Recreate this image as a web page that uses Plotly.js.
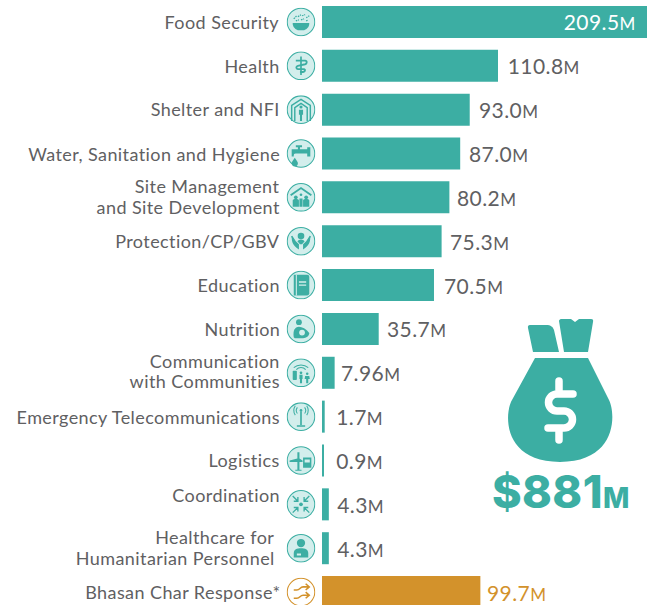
<!DOCTYPE html>
<html><head><meta charset="utf-8">
<script src="https://cdn.plot.ly/plotly-3.0.1.min.js"></script>
<style>html,body{margin:0;padding:0;background:#fff}#c{width:647px;height:605px}
.annotation text{letter-spacing:.42px}</style></head>
<body><div id="c"></div>
<script>
const categories=["Food Security","Health","Shelter and NFI","Water, Sanitation and Hygiene","Site Management<br>and Site Development","Protection/CP/GBV","Education","Nutrition","Communication<br>with Communities","Emergency Telecommunications","Logistics","Coordination","Healthcare for<br>Humanitarian Personnel","Bhasan Char Response*"];
const values=[209.5,110.8,93.0,87.0,80.2,75.3,70.5,35.7,7.96,1.7,0.9,4.3,4.3,99.7];
const valueText=["209.5","110.8","93.0","87.0","80.2","75.3","70.5","35.7","7.96","1.7","0.9","4.3","4.3","99.7"];
const totalText="$881";
const TEAL="#3CAEA3",ORANGE="#D3922B",GREY="#5F6062";
const barColors=categories.map((c,i)=>i===13?ORANGE:TEAL);
const valShift=[0,9,8,8,7,7,9,7,5,10,12,7,7,6];
const labelDy=[0,0,-1,0,-1,0,0,0,-2,0,0,-9,-1,0];
const labelDx=[0,0,0,0,0,0,0,0,0,0,0,0,-5,0];
const lineGap=[0,0,0,0,20.5,0,0,0,20.5,0,0,0,21,0];

function svg(inner,w,h){return "data:image/svg+xml;charset=utf-8,"+encodeURIComponent(`<svg xmlns="http://www.w3.org/2000/svg" viewBox="0 0 ${w} ${h}" width="${w*4}" height="${h*4}">${inner}</svg>`);}
const glyphs=[
 `<path d="M6 15h16a8 7 0 0 1-5 7h-6a8 7 0 0 1-5-7z" fill="C"/><path d="M7 11l3-3M11 9l3-2M15 8l3-1M19 10l3-2M9 13l3-1M14 12l3-1M19 13l2-1" stroke="C" stroke-width="1.2" fill="none" stroke-dasharray="1.5 .8"/>`,
 `<path d="M14 5v18" stroke="C" stroke-width="1.6"/><path d="M9 9h9c2 0 2 3 0 3.5l-7 1.500c-2 .6-2 3 0 3.200h6c1.500.5 1 2.500-1 2.800h-3" stroke="C" stroke-width="1.800" fill="none"/>`,
 `<path d="M5 25V10l9-6 9 6v15M8 25V12l6-4 6 4v13" stroke="C" stroke-width="1.400" fill="none"/><circle cx="14" cy="11.500" r="1.500" fill="C"/><path d="M12 14h4v5h-1v6h-2v-6h-1z" fill="C"/>`,
 `<path d="M5 10h6V8h-2V6h6v2h-2v2h7V8h3v9h-3v-3H9c-2 0-2 1-2 3H5z" fill="C"/><path d="M8 18c2 3 3 4 3 5.500a3 3 0 0 1-6 0c0-1.500 1-2.500 3-5.500z" fill="C"/>`,
 `<path d="M4 12L14 5l10 7" stroke="C" stroke-width="1.800" fill="none"/><circle cx="9" cy="14" r="1.800" fill="C"/><circle cx="14" cy="11.500" r="1.300" fill="C"/><circle cx="19" cy="14" r="1.800" fill="C"/><path d="M6 23v-6c0-1 1-1.500 3-1.500s3 .5 3 1.500v6zM16 23v-6c0-1 1-1.500 3-1.500s3 .5 3 1.500v6zM12.500 23v-8h3v8z" fill="C"/>`,
 `<path d="M5 9c0 6 1 9 7 13v-5L8 13zM23 9c0 6-1 9-7 13v-5l4-4z" fill="C"/><path d="M5 9l3 5M23 9l-3 5" stroke="C" stroke-width="1.500"/><circle cx="14" cy="9" r="3.200" fill="C"/><path d="M10.500 14a4 3 0 0 1 7 0l-2.500 3h-2z" fill="C"/>`,
 `<path d="M7 4h13a2 2 0 0 1 2 2v16a2 2 0 0 1-2 2H7z" fill="C"/><path d="M9.500 4v20" stroke="#D3EEEC" stroke-width="1"/><path d="M12 11h7M12 14h7" stroke="#D3EEEC" stroke-width="1.300"/>`,
 `<circle cx="12" cy="7.500" r="2.800" fill="C"/><path d="M7 22c-1-6 1-10 5-10 3 0 7 2 10 6 0 3-3 5-6 5h-8z" fill="C"/><circle cx="15" cy="17.500" r="2.800" fill="#D3EEEC"/>`,
 `<path d="M7 9a10 9 0 0 1 14 0M9.500 11a6 6 0 0 1 9 0" stroke="C" stroke-width="1" fill="none"/><rect x="6" y="12" width="4" height="9" rx=".8" fill="C"/><circle cx="14" cy="14" r="1.300" fill="C"/><path d="M12.500 16h3v4h-.5v4h-2v-4h-.5z" fill="C"/><circle cx="20" cy="15" r="1.200" fill="C"/><path d="M18 17h4l.5 3h-1.500v4h-2v-4h-1.500z" fill="C"/>`,
 `<path d="M14 9v13M10 23h8" stroke="C" stroke-width="1.600"/><circle cx="14" cy="8" r="1.300" fill="C"/><path d="M10.500 5a5 5 0 0 0 0 6M17.500 5a5 5 0 0 1 0 6M8.500 3.500a8 8 0 0 0 0 9M19.500 3.500a8 8 0 0 1 0 9" stroke="C" stroke-width="1" fill="none"/>`,
 `<path d="M10.500 6h2v6l3 2v1.500h-3V23h2v1h-6v-1h2v-7.500H3v-1.500l7.500-2z" fill="C"/><path d="M16 11h8v10h-8z" fill="C"/><path d="M17.500 13h5v3h-5z" fill="#D3EEEC"/>`,
 `<circle cx="14" cy="14" r="1.800" fill="C"/><path d="M6 6l5 5M11 7v4H7M22 6l-5 5M17 7v4h4M6 22l5-5M11 21v-4H7M22 22l-5-5M17 21v-4h4" stroke="C" stroke-width="1.300" fill="none"/>`,
 `<circle cx="14" cy="9" r="4" fill="C"/><path d="M7 23v-4c0-4 3-5 7-5s7 1 7 5v4z" fill="C"/><path d="M10 19h4v2h-4z" fill="#D3EEEC"/>`,
 `<path d="M7 12h3c3 0 3-3 6-3h5M7 20h3c3 0 3-3 6-3h5M18.500 6l3.500 3-3.500 3M18.500 14l3.500 3-3.500 3" stroke="C" stroke-width="1.500" fill="none"/>`
];
function icon(i){const C=i===13?ORANGE:TEAL,bg=i===13?"#FFFFFF":"#D3EEEC";
 return svg(`<circle cx="14" cy="14" r="13.300" fill="${bg}" stroke="${C}" stroke-width="1"/>`+glyphs[i].replace(/="C"/g,`="${C}"`),28,28);}
const bag=svg(`<g fill="${TEAL}"><path d="M21 9c-.5-2 .5-3 2-3h16c5 0 7 2 8 5l5 22H26z"/><path d="M52 2c0-1 1-2 2-2h10l4 3 4-3h12c2 0 2.500 1 2 3l-5 30H57z"/><path d="M28 39h53l21 42c7 14 8 62-49 62C-4 143-3 95 5 81z"/></g><path d="M52 62v9M52 113v8M66 75H50a8.500 8.500 0 0 0 0 17h7a8.500 8.500 0 0 1 0 17H41" stroke="#fff" stroke-width="7.500" stroke-linecap="round" fill="none"/>`,107,143);

const M=()=>`<span style="font-size:17px">M</span>`;
const labFont={family:"Lato, 'Open Sans', sans-serif",size:18,color:GREY};
const annotations=[];
categories.forEach((c,i)=>{
 const lines=c.split("<br>");
 lines.forEach((t,k)=>{
  const off=labelDy[i]+(lines.length>1?(k-0.5)*lineGap[i]:0);
  annotations.push({xref:"paper",yref:"y",x:-40/325,y:c,text:t,showarrow:false,xanchor:"right",yanchor:"middle",align:"right",xshift:labelDx[i],yshift:-off,font:labFont});
 });
 if(i===0) annotations.push({xref:"paper",yref:"y",x:1,xshift:-11,y:c,text:valueText[i]+M(),showarrow:false,xanchor:"right",font:{family:"Lato, sans-serif",size:21,color:"#fff"}});
 else annotations.push({xref:"x",yref:"y",x:values[i],xshift:valShift[i],y:c,text:valueText[i]+M(),showarrow:false,xanchor:"left",font:{family:"Lato, sans-serif",size:21,color:i===13?ORANGE:GREY}});
});
annotations.push({xref:"paper",yref:"paper",x:(561-322)/325,y:1-491/605,text:`${totalText}<span style="font-size:28px">M</span>`,showarrow:false,xanchor:"center",yanchor:"middle",font:{family:"Inter, Lato, sans-serif",size:45,weight:800,color:TEAL}});
const images=categories.map((c,i)=>({source:icon(i),xref:"paper",yref:"y",x:-21/325,y:c,sizex:29/325,sizey:29/43.85,xanchor:"center",yanchor:"middle",sizing:"contain",layer:"above"}));
images.push({source:bag,xref:"paper",yref:"paper",x:(507-322)/325,y:1-319/605,sizex:107/325,sizey:143/605,xanchor:"left",yanchor:"top",sizing:"contain",layer:"above"});
Plotly.newPlot("c",[{type:"bar",orientation:"h",y:categories,x:values,width:0.73,marker:{color:barColors},hoverinfo:"x+y"}],{
 width:647,height:605,margin:{l:322,r:0,t:0,b:0},paper_bgcolor:"#fff",plot_bgcolor:"#fff",showlegend:false,
 xaxis:{range:[0,204.6],visible:false,fixedrange:true},
 yaxis:{type:"category",categoryorder:"array",categoryarray:categories,range:[13.295,-0.5],showticklabels:false,showgrid:false,zeroline:false,ticks:"",showline:false,fixedrange:true},
 annotations,images
},{displayModeBar:false});
</script></body></html>
